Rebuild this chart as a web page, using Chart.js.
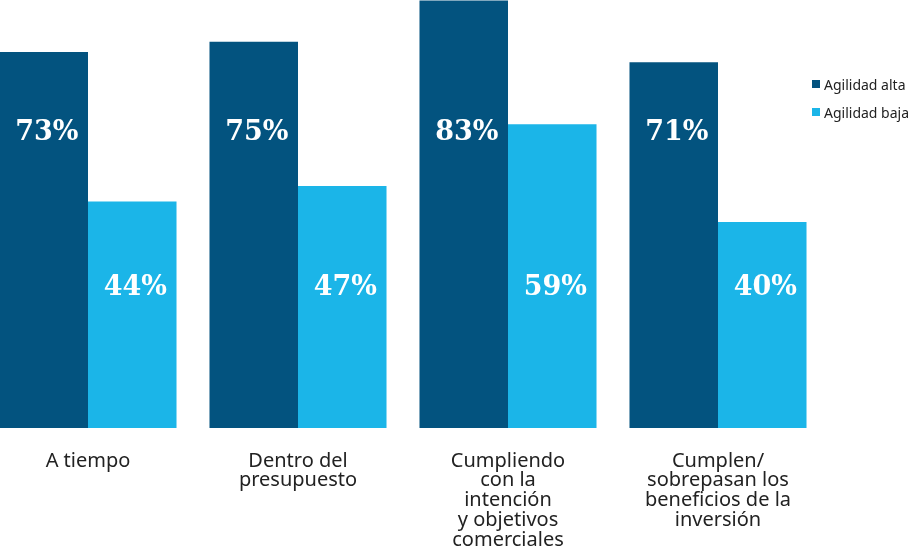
<!DOCTYPE html>
<html lang="es">
<head>
<meta charset="utf-8">
<script src="https://cdn.jsdelivr.net/npm/chart.js@4/dist/chart.umd.min.js"></script>
<style>
  html, body { margin: 0; padding: 0; background: #fff; overflow: hidden; }
  #wrap { position: absolute; left: -17px; top: 0; width: 928px; height: 565px; }
  #legend { position: absolute; left: 812px; top: 70px; font-family: "Noto Sans", sans-serif; font-size: 14px; color: #222; }
  #legend div { display: flex; align-items: center; height: 28px; }
  #legend span.sw { display: inline-block; width: 8px; height: 8px; margin-right: 4px; }
</style>
</head>
<body>
<div id="wrap"><canvas id="chart"></canvas></div>
<div id="legend"></div>
<script>
// data
const categories = [
    ['A tiempo'],
    ['Dentro del', 'presupuesto'],
    ['Cumpliendo', 'con la', 'intención', 'y objetivos', 'comerciales'],
    ['Cumplen/', 'sobrepasan los', 'beneficios de la', 'inversión']
];
const seriesNames = ['Agilidad alta', 'Agilidad baja'];
const agilidadAlta = [73, 75, 83, 71];
const agilidadBaja = [44, 47, 59, 40];

const colors = ['#03537f', '#1bb5e8'];

// legend (html)
const legendEl = document.getElementById('legend');
seriesNames.forEach((name, i) => {
    const row = document.createElement('div');
    row.innerHTML = '<span class="sw" style="background:' + colors[i] + '"></span>' + name;
    legendEl.appendChild(row);
});

// value labels at fixed heights inside bars
const valueLabels = {
    id: 'valueLabels',
    afterDatasetsDraw(chart) {
        const ctx = chart.ctx;
        const area = chart.chartArea;
        const rows = [0.304, 0.666];
        ctx.save();
        ctx.fillStyle = '#ffffff';
        ctx.font = 'bold 27px "DejaVu Serif", serif';
        ctx.textAlign = 'center';
        ctx.textBaseline = 'middle';
        chart.data.datasets.forEach((ds, di) => {
            const meta = chart.getDatasetMeta(di);
            meta.data.forEach((bar, i) => {
                const y = area.top + (area.bottom - area.top) * rows[di];
                ctx.fillText(ds.data[i] + '%', bar.x + 3, y + 3);
            });
        });
        ctx.restore();
    }
};

new Chart(document.getElementById('chart'), {
    type: 'bar',
    data: {
        labels: categories,
        datasets: [
            { label: seriesNames[0], data: agilidadAlta, backgroundColor: colors[0] },
            { label: seriesNames[1], data: agilidadBaja, backgroundColor: colors[1] }
        ]
    },
    options: {
        responsive: true,
        maintainAspectRatio: false,
        animation: false,
        layout: { padding: { left: 0, right: 88, top: 0, bottom: 0 } },
        datasets: {
            bar: { categoryPercentage: 0.843, barPercentage: 1, borderWidth: 0 }
        },
        plugins: {
            legend: { display: false },
            tooltip: { enabled: false }
        },
        scales: {
            x: {
                grid: { display: false },
                border: { display: false },
                ticks: {
                    color: '#222',
                    padding: 15,
                    maxRotation: 0,
                    autoSkip: false,
                    font: { family: '"Noto Sans", sans-serif', size: 20, lineHeight: 0.99 }
                }
            },
            y: {
                display: false,
                min: 0,
                max: 83.1
            }
        }
    },
    plugins: [valueLabels]
});
</script>
</body>
</html>
